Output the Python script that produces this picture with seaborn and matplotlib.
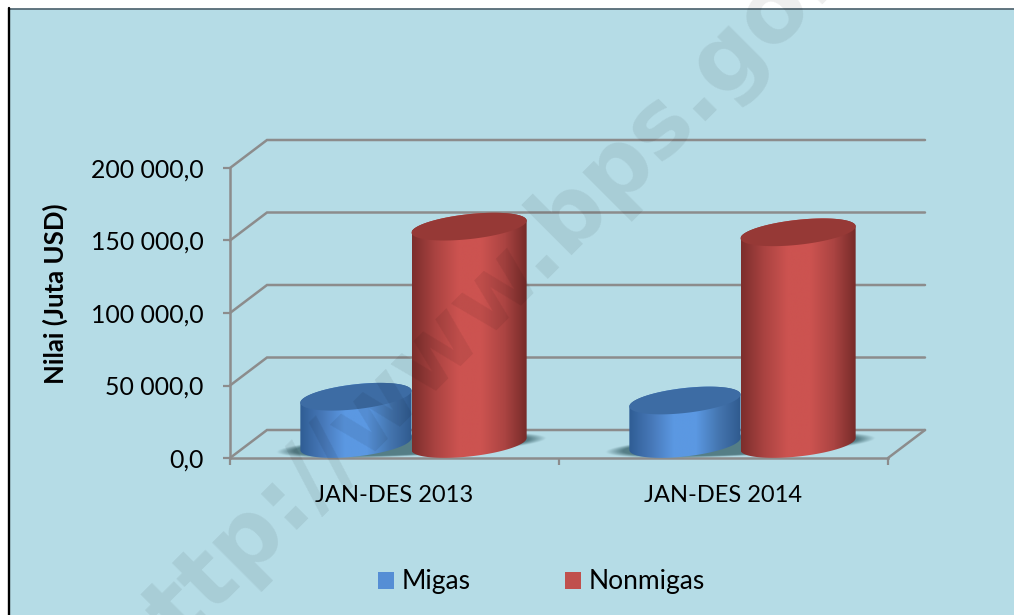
import numpy as np
import pandas as pd
import seaborn as sns
import matplotlib.pyplot as plt
from matplotlib.colors import LinearSegmentedColormap
from matplotlib.patches import PathPatch, Rectangle
from matplotlib.path import Path
from matplotlib.ticker import FuncFormatter
from matplotlib.transforms import IdentityTransform

W, H = 1014, 615

periods = ["JAN-DES 2013", "JAN-DES 2014"]
migas = [32600, 30000]
nonmigas = [149900, 146000]
series_names = ["Migas", "Nonmigas"]
y_ticks = [0, 50000, 100000, 150000, 200000]

panel_color = "#b5dce6"
grid_color = "#8c8c8c"
legend_colors = ["#558ed5", "#c0504d"]
side_colors = [
    ["#2f5d94", "#4778b8", "#5b98e2", "#5b98e2", "#4576b0", "#2f5a8e"],
    ["#7c2e2c", "#aa4341", "#cc5350", "#cc5350", "#ab4442", "#742a28"],
]
top_colors = ["#3d6ca4", "#963936"]

depth_x, depth_y = 37, 28  # 3d depth of the walls, px
shift_x = 17  # cylinders stand in the middle of the depth
shift_y = 14
shear = 6.0   # how much the ellipses lean, px
minor = 12.5  # half height of ellipses, px
trim_left = [4, 0]  # the back cylinder looks a bit narrower

sns.set_theme(style="white")
plt.rcParams["font.family"] = ["Lato", "DejaVu Sans"]

df = pd.DataFrame({
    "periode": periods * 2,
    "jenis": [series_names[0]] * 2 + [series_names[1]] * 2,
    "nilai": migas + nonmigas,
})

fig = plt.figure(figsize=(W / 100, H / 100), dpi=100, facecolor="white")

# background panel with its two visible border lines
fig.add_artist(Rectangle((9 / W, 0), 1 - 9 / W, 1 - 9 / H, transform=fig.transFigure,
                         facecolor=panel_color, edgecolor="none", zorder=-5))
fig.add_artist(plt.Line2D([9 / W, 1], [1 - 8.5 / H] * 2, color="#566b76", lw=1.3, zorder=-4))
fig.add_artist(plt.Line2D([9 / W, 9 / W], [0, 1 - 8 / H], color="black", lw=1.7, zorder=-4))

ax = fig.add_axes([230 / W, (H - 458) / H, 658 / W, 290 / H])
ax.patch.set_alpha(0)

sns.barplot(data=df, x="periode", y="nilai", hue="jenis", order=periods,
            hue_order=series_names, palette=legend_colors, width=0.7, gap=0,
            saturation=1, ax=ax, legend=False)

ax.set_xlim(-0.5, 1.5)
ax.set_ylim(0, 200000)
ax.set_autoscale_on(False)
ax.set_yticks(y_ticks)
ax.yaxis.set_major_formatter(FuncFormatter(
    lambda v, _: f"{int(v):,}".replace(",", " ") + ",0"))
ax.set_xticks([-0.5, 0.5, 1.5])
ax.set_xticks([0, 1], labels=periods, minor=True)
ax.xaxis.set_major_formatter(FuncFormatter(lambda v, _: ""))
ax.tick_params(axis="x", which="major", length=5.2, width=1.6, color=grid_color, bottom=True)
ax.tick_params(axis="x", which="minor", length=0, labelsize=17, pad=19.5, labelcolor="black")
ax.tick_params(axis="y", length=5.2, width=1.6, color=grid_color, left=True,
               labelsize=17.9, pad=13.7, labelcolor="black")
for s in ["top", "right"]:
    ax.spines[s].set_visible(False)
for s in ["left", "bottom"]:
    ax.spines[s].set_color(grid_color)
    ax.spines[s].set_linewidth(1.8)
    ax.spines[s].set_zorder(1)
ax.set_xlabel("")
ax.set_ylabel("")
fig.text(55 / W, 1 - 294 / H, "Nilai (Juta USD)", rotation=90, ha="center", va="center",
         fontsize=18.5, fontweight="bold", color="black")


def to_px(x, y):
    return ax.transData.transform((x, y))


# side walls and floor edges, from the axis scale
x0 = to_px(-0.5, 0)[0]
x1 = to_px(1.5, 0)[0]
for t in y_ticks:
    y = to_px(0, t)[1]
    ax.plot([x0, x0 + depth_x, x1 + depth_x], [y, y + depth_y, y + depth_y],
            color=grid_color, lw=1.8, transform=IdentityTransform(), zorder=0.5,
            clip_on=False, solid_joinstyle="miter")
y = to_px(0, 0)[1]
ax.plot([x1, x1 + depth_x], [y, y + depth_y], color=grid_color, lw=1.8,
        transform=IdentityTransform(), zorder=0.5, clip_on=False)

n_groups = len(periods)
bars = list(ax.patches)[:n_groups * 2]


def ellipse_pts(cx, cy, a, t):
    return np.column_stack([cx + a * np.cos(t),
                            cy + minor * np.sin(t) + shear * np.cos(t)])


def add_image(rgba, extent, clip=None, zorder=2):
    im = ax.imshow(rgba, extent=extent, origin="lower", aspect="auto", zorder=zorder,
                   transform=IdentityTransform(), interpolation="bilinear")
    if clip is not None:
        im.set_clip_path(clip)
    else:
        im.set_clip_on(False)
    return im


# soft shadow on the floor under each pair of cylinders
for g in range(n_groups):
    left = bars[g]
    right = bars[g + n_groups]
    cx = (left.get_x() + right.get_x() + right.get_width()) / 2
    px_c = to_px(cx, 0)[0] + shift_x
    py_c = to_px(0, 0)[1] + shift_y - 1
    half = (to_px(right.get_x() + right.get_width(), 0)[0] - to_px(left.get_x(), 0)[0]) / 2 + 20
    xs = np.linspace(px_c - half - 25, px_c + half + 25, 300)
    ys = np.linspace(py_c - 30, py_c + 30, 120)
    xx, yy = np.meshgrid(xs, ys)
    u = (xx - px_c) / half
    v = (yy - py_c - u * 7) / 11
    r = np.sqrt(u ** 2 + v ** 2)
    alpha = np.clip((1.0 - r) / 0.13, 0, 1) * 0.85
    rgba = np.zeros(xx.shape + (4,))
    rgba[..., :3] = np.array([0.27, 0.43, 0.46])
    rgba[..., 3] = alpha
    add_image(rgba, (xs[0], xs[-1], ys[0], ys[-1]), zorder=1.5)

# cylinders: blue first so that red sits in front
for i, bar in enumerate(bars):
    s = i // n_groups
    left, right_edge = bar.get_x(), bar.get_x() + bar.get_width()
    xa = to_px(left, 0)[0] + shift_x + trim_left[s]
    xb = to_px(right_edge, 0)[0] + shift_x
    base = to_px(0, 0)[1] + shift_y
    top = to_px(0, bar.get_height())[1] + shift_y
    cx, a = (xa + xb) / 2, (xb - xa) / 2

    lower = ellipse_pts(cx, base, a, np.linspace(np.pi, 2 * np.pi, 80))
    upper = ellipse_pts(cx, top, a, np.linspace(0, np.pi, 80))
    outline = Path(np.vstack([lower, upper, lower[:1]]), closed=True)
    clip = PathPatch(outline, transform=IdentityTransform())

    bar.set_visible(False)
    cmap = LinearSegmentedColormap.from_list("side", side_colors[s])
    grad = cmap(np.linspace(0, 1, 256))[None, :, :]
    add_image(grad, (xa, xb, base - 25, top + 25), clip=clip, zorder=2 + s + 0.1 * i)

    cap = ellipse_pts(cx, top, a, np.linspace(0, 2 * np.pi, 120))
    ax.add_patch(PathPatch(Path(cap, closed=False), facecolor=top_colors[s], edgecolor="none",
                           transform=IdentityTransform(), zorder=2.05 + s + 0.1 * i,
                           clip_on=False))

ax.set_xlim(-0.5, 1.5)
ax.set_ylim(0, 200000)

# legend
handles = [Rectangle((0, 0), 1, 1, facecolor=c, edgecolor="none") for c in legend_colors]
fig.legend(handles, series_names, ncol=2, frameon=False, loc="center",
           bbox_to_anchor=(541.5 / W, 1 - 582 / H), fontsize=19, handlelength=0.6,
           handleheight=0.6, handletextpad=0.27, columnspacing=3.6, labelcolor="black")

# watermark across the whole picture, runs off the edges like in the original
fig.text(131 / W, 1 - 687 / H, "http://www.bps.go.id", rotation=45, rotation_mode="anchor",
         ha="left", va="baseline", fontsize=66.8, fontweight="bold",
         family=["DejaVu Sans"], color="black", alpha=0.07, zorder=20)

fig.savefig("out.png", dpi=100)
